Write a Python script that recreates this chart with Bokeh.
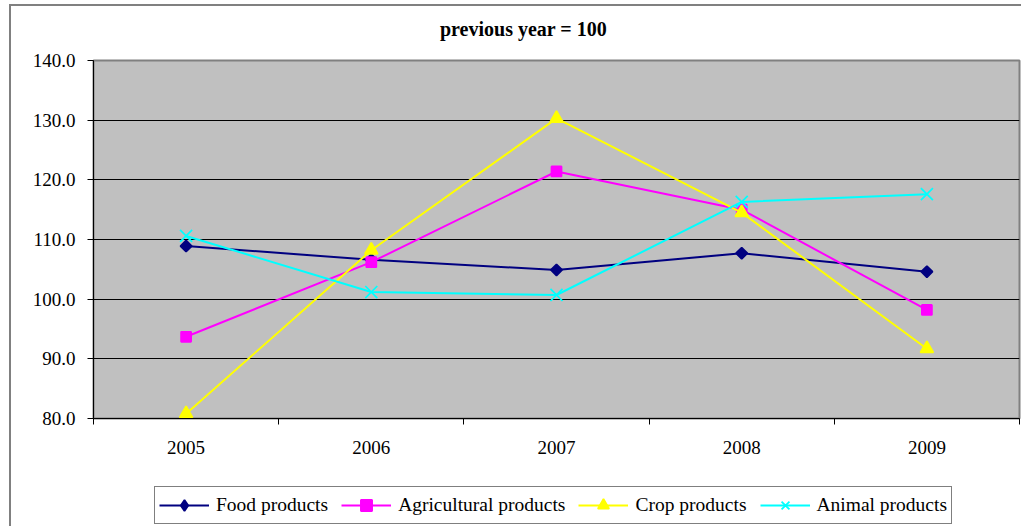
from bokeh.plotting import figure
from bokeh.layouts import column
from bokeh.models import (Range1d, LinearAxis, FixedTicker, Legend, LegendItem,
                          NumeralTickFormatter, Label)
from bokeh.embed import file_html
from bokeh.resources import INLINE

# Indices, previous year = 100
years = ["2005", "2006", "2007", "2008", "2009"]
food = [108.9, 106.6, 104.9, 107.7, 104.6]
agricultural = [93.7, 106.2, 121.4, 115.0, 98.2]
crop = [80.8, 108.2, 130.3, 114.5, 91.7]
animal = [110.6, 101.2, 100.7, 116.3, 117.6]
y_ticks = [80, 90, 100, 110, 120, 130, 140]
grid_ticks = [90, 100, 110, 120, 130]
title_text = "previous year = 100"

FONT = "Liberation Serif"
W = 1010
BORDER_L, BORDER_R = 82, 2

# each year occupies one unit slot; points sit in the slot centres
n = len(years)
xs = [i + 0.5 for i in range(n)]
edges = list(range(n + 1))


def blank_strip(height):
    """A white strip sharing the chart's horizontal frame, without axes or grid."""
    f = figure(width=W, height=height, x_range=Range1d(0, 1), y_range=Range1d(0, 1),
               output_backend="svg", toolbar_location=None,
               x_axis_location=None, y_axis_location=None,
               min_border_left=BORDER_L, min_border_right=BORDER_R,
               min_border_top=0, min_border_bottom=0, outline_line_color=None)
    f.background_fill_color = "white"
    f.border_fill_color = "white"
    for g in f.grid:
        g.visible = False
    return f


# title strip
head = blank_strip(44)
head.add_layout(Label(x=0.4644, y=0.5, text=title_text, text_align="center",
                      text_baseline="middle", text_font=FONT, text_font_size="20px",
                      text_font_style="bold", text_color="black"))

# main chart
p = figure(width=W, height=430, x_range=Range1d(0, n), y_range=Range1d(80, 140),
           output_backend="svg", toolbar_location=None,
           x_axis_location=None, y_axis_location="left",
           min_border_left=BORDER_L, min_border_right=BORDER_R,
           min_border_top=10, min_border_bottom=62)

p.background_fill_color = "#C0C0C0"
p.border_fill_color = "white"
p.outline_line_color = "#808080"
p.outline_line_width = 2

# value axis
yax = p.yaxis[0]
yax.ticker = FixedTicker(ticks=y_ticks)
yax.formatter = NumeralTickFormatter(format="0.0")
yax.major_label_text_font = FONT
yax.major_label_text_font_size = "19px"
yax.major_label_text_color = "black"
yax.major_label_standoff = 12
yax.major_tick_out = 6
yax.major_tick_in = 0
yax.minor_tick_line_color = None
yax.axis_line_color = "black"
yax.major_tick_line_color = "black"

for g in p.grid:
    if g.dimension == 0:
        g.visible = False
    else:
        g.ticker = FixedTicker(ticks=grid_ticks)
        g.grid_line_color = "black"
        g.grid_line_width = 1

# category axis: tick marks on the slot boundaries, year labels at the centres
edge_axis = LinearAxis(ticker=FixedTicker(ticks=edges),
                       major_label_text_font_size="0px", major_label_standoff=0,
                       major_tick_out=6, major_tick_in=0, minor_tick_line_color=None,
                       axis_line_color="black", major_tick_line_color="black")
year_axis = LinearAxis(ticker=FixedTicker(ticks=xs),
                       major_label_overrides={x: y for x, y in zip(xs, years)},
                       axis_line_color=None, major_tick_line_color=None,
                       minor_tick_line_color=None,
                       major_tick_out=0, major_tick_in=0, major_label_standoff=16,
                       major_label_text_font=FONT, major_label_text_font_size="19px",
                       major_label_text_color="black")
p.below = [edge_axis, year_axis]

# label, values, colour, chart marker, size, angle, legend key marker
series = [
    ("Food products", food, "#000080", "square", 8, 0.785398, "diamond"),
    ("Agricultural products", agricultural, "#FF00FF", "square", 10, 0.0, "square"),
    ("Crop products", crop, "#FFFF00", "triangle", 13, 0.0, "triangle"),
    ("Animal products", animal, "#00FFFF", "x", 17, 0.0, "x"),
]

# legend strip below the chart; its key renderers hold the same series,
# which fall outside the strip's ranges so only the legend keys show
leg = blank_strip(46)

items = []
for label, vals, color, marker, size, angle, key_marker in series:
    p.line(xs, vals, line_color=color, line_width=2)
    p.scatter(xs, vals, marker=marker, size=size, angle=angle,
              fill_color=color, line_color=color, line_width=1.75)
    key_line = leg.line(xs, vals, line_color=color, line_width=2)
    key_mark = leg.scatter(xs, vals, marker=key_marker, size=size,
                           fill_color=color, line_color=color, line_width=1.75)
    items.append(LegendItem(label=label, renderers=[key_line, key_mark]))

legend = Legend(items=items, location=(61, 2), orientation="horizontal",
                label_text_font=FONT, label_text_font_size="19.5px", label_text_color="black",
                glyph_width=50, glyph_height=28, label_height=28, label_standoff=7,
                spacing=13, padding=4, margin=0,
                border_line_color="black", border_line_width=1,
                background_fill_color="white", background_fill_alpha=1.0)
leg.add_layout(legend, "center")

# chart area border: left and top edges fall inside the window
layout = column(head, p, leg, spacing=0, margin=(4, 0, 0, 9),
                styles={"border-left": "2px solid #808080", "border-top": "2px solid #808080",
                        "background-color": "white"})

open("out.html", "w").write(file_html(layout, INLINE))
